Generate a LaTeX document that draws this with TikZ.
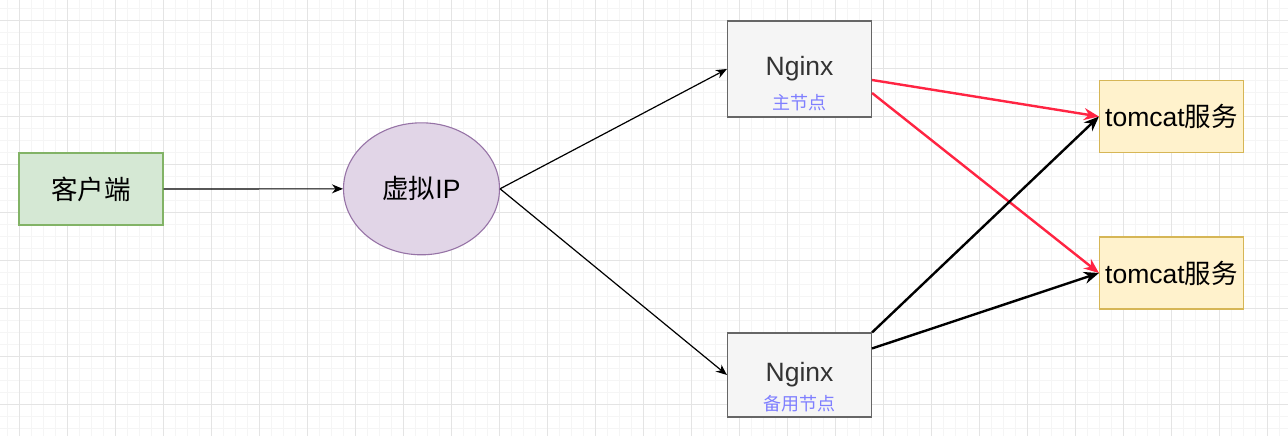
\documentclass[tikz,border=0pt]{standalone}
\usepackage{fontspec}
\setmainfont{Liberation Sans}
\newfontfamily\cjk{Noto Sans CJK SC}
\usetikzlibrary{arrows.meta, shapes.geometric}
\tikzset{
  box/.style={draw, rectangle, minimum width=144pt, inner sep=0pt, line width=1.1pt, font=\fontsize{26.5}{30}\selectfont},
  client/.style={box, fill=greenfill, draw=greenline, minimum height=72pt},
  vip/.style={draw=purpleline, fill=purplefill, ellipse, minimum width=156pt, minimum height=132pt, inner sep=0pt, line width=1.1pt, font=\fontsize{26.5}{30}\selectfont},
  proxy/.style={box, fill=greyfill, draw=greyline, text=darktext},
  tomcat/.style={box, fill=yellowfill, draw=yellowline, minimum height=72pt},
  sub/.style={text=subtext, font=\cjk\fontsize{18}{20}\selectfont, inner sep=0pt},
  thinarrow/.style={-{Stealth[length=11pt, width=9pt]}, line width=1.2pt},
  thickarrow/.style={-{Stealth[length=15pt, width=12pt]}, line width=2.4pt},
}
\definecolor{greenfill}{HTML}{D5E8D4}
\definecolor{greenline}{HTML}{82B366}
\definecolor{purplefill}{HTML}{E1D5E7}
\definecolor{purpleline}{HTML}{9673A6}
\definecolor{greyfill}{HTML}{F5F5F5}
\definecolor{greyline}{HTML}{666666}
\definecolor{darktext}{HTML}{333333}
\definecolor{subtext}{HTML}{7F7FFF}
\definecolor{yellowfill}{HTML}{FFF2CC}
\definecolor{yellowline}{HTML}{D6B656}
\definecolor{redline}{HTML}{FF2442}
\definecolor{minorgrid}{HTML}{F5F5F5}
\definecolor{majorgrid}{HTML}{E4E4E4}
\begin{document}
\begin{tikzpicture}[x=1pt, y=-1pt]
                % background and grid
                \fill[white] (0,0) rectangle (1288,436);
                \useasboundingbox (0,0) rectangle (1288,436);
                \foreach \i in {0,...,107}
                    \draw[minorgrid, line width=1pt] (7.5+12*\i,0) -- (7.5+12*\i,436);
                \foreach \i in {0,...,36}
                    \draw[minorgrid, line width=1pt] (0,8.5+12*\i) -- (1288,8.5+12*\i);
                \foreach \i in {0,...,26}
                    \draw[majorgrid, line width=1pt] (19.5+48*\i,0) -- (19.5+48*\i,436);
                \foreach \i in {0,...,8}
                    \draw[majorgrid, line width=1pt] (0,20.5+48*\i) -- (1288,20.5+48*\i);
                % nodes
                \node[client] (client) at (91,189) {\cjk 客户端};
                \node[vip] (vip) at (421.5,188.8) {{\cjk 虚拟}IP};
                \node[proxy, minimum height=96pt] (master) at (799.5,69) {Nginx};
                \node[sub] (mastersub) at (799.5,103) {主节点};
                \node[proxy, minimum height=84pt] (backup) at (799.5,375) {Nginx};
                \node[sub] (backupsub) at (799.5,404) {备用节点};
                \node[tomcat] (tomcatA) at (1171.5,116.5) {tomcat{\cjk 服务}};
                \node[tomcat] (tomcatB) at (1171.5,273) {tomcat{\cjk 服务}};
                % edges
                \draw[thinarrow] (client) -- (vip);
                \draw[thinarrow] (vip.east) -- (master.west);
                \draw[thinarrow] (vip.east) -- (backup.west);
                \draw[thickarrow, redline] ([yshift=-11pt]master.east) -- (tomcatA.west);
                \draw[thickarrow, redline] ([yshift=-24pt]master.east) -- (tomcatB.west);
                \draw[thickarrow] (backup.north east) -- (tomcatA.west);
                \draw[thickarrow] ([yshift=-16pt]backup.north east) -- (tomcatB.west);
            \end{tikzpicture}
\end{document}
